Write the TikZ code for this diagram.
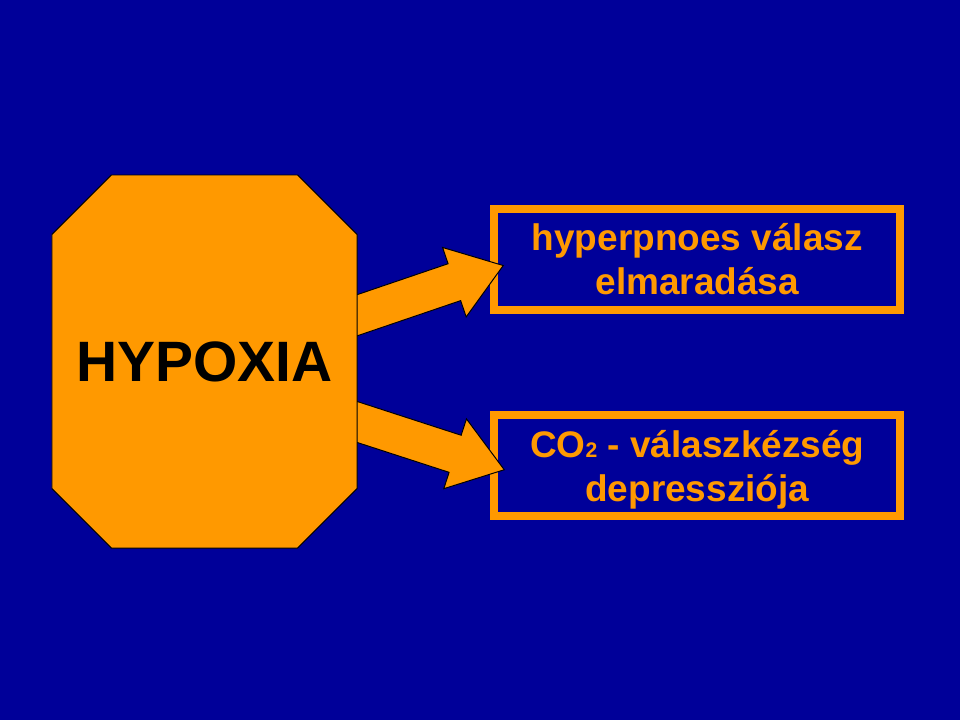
\documentclass[tikz,border=0pt]{standalone}
\usepackage{fontspec}
\setmainfont{Liberation Sans}
\usetikzlibrary{shapes.misc,shapes.arrows,calc}
\definecolor{slideblue}{RGB}{0,0,153}
\definecolor{slideorange}{RGB}{255,153,0}

\begin{document}
\begin{tikzpicture}[x=0.25mm,y=-0.25mm,font=\bfseries,
  octa/.style={chamfered rectangle,chamfered rectangle xsep=9.8mm,chamfered rectangle ysep=9.8mm,
    fill=slideorange,draw=black,line width=0.7pt,minimum width=76.25mm,minimum height=93.25mm,
    inner sep=0pt,font=\fontsize{40.5}{48}\selectfont\bfseries},
  resp/.style={draw=slideorange,line width=5.7pt,minimum width=101.6mm,minimum height=25.2mm,
    align=center,text=slideorange,inner sep=0pt,font=\fontsize{26.3}{31.3}\selectfont\bfseries},
  fatarrow/.style={single arrow,fill=slideorange,draw=black,line width=0.7pt,inner xsep=0pt,
    inner ysep=4.75mm,minimum width=0pt,single arrow head extend=4.3mm,
    single arrow tip angle=70.8,anchor=tip}]
\fill[slideblue] (0,0) rectangle (960,720);
% the two responses
\node[resp] (lag) at (697.25,259.25) {hyperpnoes válasz\\elmaradása};
\node[resp,text depth=0pt] (dep) at (697.25,465.5) {CO{\fontsize{15}{15}\selectfont 2} - válaszkézség\\depressziója};
% fat arrows, tails go under the octagon
\node[fatarrow,rotate=18.8,minimum height=43.8mm] (a1) at ($(lag.west)+(14,6)$) {};
\node[fatarrow,rotate=-18,minimum height=43.9mm] (a2) at ($(dep.west)+(15,4.5)$) {};
\node[octa] (hyp) at (204.5,361.5) {HYPOXIA};
\end{tikzpicture}
\end{document}
